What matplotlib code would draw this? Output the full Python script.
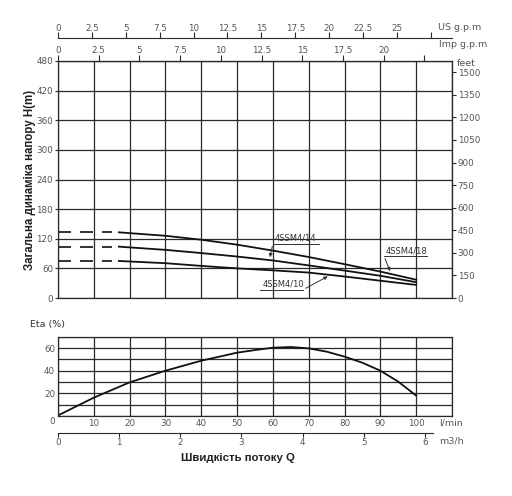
import matplotlib
matplotlib.use("Agg")
from matplotlib import pyplot as plt

# flow in l/min and head in m for the three pumps
q_head = [17, 30, 40, 50, 60, 70, 80, 90, 100]
h_18 = [133, 126, 118, 108, 96, 83, 68.5, 53.5, 37]
h_14 = [104, 97.5, 91, 84, 76, 66, 55.5, 45, 32]
h_10 = [75, 70.5, 65, 60, 56, 51.5, 43.5, 35, 26.5]
shutoff_q = [0, 15]

# efficiency curve
q_eta = [0, 10, 20, 30, 40, 50, 55, 60, 65, 70, 75, 80, 85, 90, 95, 100]
eta = [0.5, 16.2, 29.7, 40, 48.8, 55.9, 58.2, 60.3, 60.9, 59.7, 56.8, 52.4, 47, 40, 30.3, 18]

head_ticks = list(range(0, 481, 60))
feet_ticks = list(range(0, 1501, 150))
us_ticks = [0, 2.5, 5, 7.5, 10, 12.5, 15, 17.5, 20, 22.5, 25, 27.5]
imp_ticks = [0, 2.5, 5, 7.5, 10, 12.5, 15, 17.5, 20, 22.5]
eta_ticks = [20, 40, 60]
lmin_ticks = [10, 20, 30, 40, 50, 60, 70, 80, 90, 100]
m3h_ticks = [0, 1, 2, 3, 4, 5, 6]

LMIN_PER_US = 3.785
LMIN_PER_IMP = 4.546
LMIN_PER_M3H = 17.07  # as drawn on the sheet
FT_PER_M = 3.2808

W, H = 512, 496
grid_c = "#2a2a2a"
tick_c = "#555555"
tfont = dict(fontsize=6.3, color=tick_c)

fig = plt.figure(figsize=(W / 100, H / 100), dpi=100)


def box(l, t, r, b):
    return [l / W, 1 - b / H, (r - l) / W, (b - t) / H]


# ---- head chart ----
ax = fig.add_axes(box(58, 61, 452, 298))
ax.set_xlim(0, 110)
ax.set_ylim(0, 480)
ax.set_xticks(range(0, 111, 10))
ax.set_yticks(head_ticks)
ax.grid(True, color=grid_c, lw=0.9)
ax.tick_params(axis="x", length=0, labelbottom=False)
ax.tick_params(axis="y", length=2, pad=1.5, labelsize=6.3, labelcolor=tick_c, color=grid_c)
for s in ax.spines.values():
    s.set_color(grid_c)
    s.set_linewidth(0.9)

for h in (h_18, h_14, h_10):
    ax.plot(shutoff_q, [h[0], h[0]], color="#111", lw=1.2, dashes=(7.8, 5.4))
    ax.plot(q_head, h, color="#111", lw=1.3)

lab = dict(fontsize=6, color="#333", family="DejaVu Sans")
line = dict(color="#333", lw=0.7)
ax.text(60.5, 112, "4SSM4/14", ha="left", va="bottom", **lab)
ax.plot([60, 73], [110, 110], **line)
ax.annotate("", xy=(59, 77), xytext=(60, 110),
            arrowprops=dict(arrowstyle="-|>", color="#333", lw=0.7, mutation_scale=5))
ax.text(91.5, 87, "4SSM4/18", ha="left", va="bottom", **lab)
ax.plot([91, 103], [85, 85], **line)
ax.annotate("", xy=(93, 49), xytext=(91, 85),
            arrowprops=dict(arrowstyle="-|>", color="#333", lw=0.7, mutation_scale=5))
ax.text(57, 19, "4SSM4/10", ha="left", va="bottom", **lab)
ax.plot([56.5, 68.5], [17, 17], **line)
ax.annotate("", xy=(76, 46.5), xytext=(68.5, 17),
            arrowprops=dict(arrowstyle="-|>", color="#333", lw=0.7, mutation_scale=5))

# feet on the right
axf = ax.secondary_yaxis("right", functions=(lambda m: m * FT_PER_M, lambda f: f / FT_PER_M))
axf.set_yticks(feet_ticks)
axf.tick_params(length=3, pad=1, labelsize=6.3, labelcolor=tick_c, color=grid_c)
axf.spines["right"].set_color(grid_c)

# Imp g.p.m on the top edge
axi = ax.secondary_xaxis("top", functions=(lambda q: q / LMIN_PER_IMP, lambda g: g * LMIN_PER_IMP))
axi.set_xticks(imp_ticks, [f"{t:g}" for t in imp_ticks[:-1]] + [""])
axi.tick_params(length=4, pad=0, labelsize=6.3, labelcolor=tick_c, color=grid_c)
axi.spines["top"].set_color(grid_c)

# US g.p.m further up
axu = ax.secondary_xaxis(1 + 22.7 / 237, functions=(lambda q: q / LMIN_PER_US, lambda g: g * LMIN_PER_US))
axu.set_xticks(us_ticks, [f"{t:g}" for t in us_ticks[:-1]] + [""])
axu.tick_params(length=4, pad=0, labelsize=6.3, labelcolor=tick_c, color=grid_c)
axu.spines["top"].set_color(grid_c)

fig.text(438 / W, 1 - 28 / H, "US g.p.m", ha="left", va="center", fontsize=6.8, color=tick_c)
fig.text(439 / W, 1 - 44.5 / H, "Imp g.p.m", ha="left", va="center", fontsize=6.8, color=tick_c)
fig.text(457 / W, 1 - 64 / H, "feet", ha="left", va="center", fontsize=6.8, color=tick_c)
fig.text(30 / W, 1 - 180 / H, "Загальна динаміка напору H(m)", rotation=90,
         ha="center", va="center", fontsize=8.3, fontweight="bold",
         family="Liberation Sans", color="#222")

# ---- efficiency chart ----
bx = fig.add_axes(box(58, 336.7, 452, 416))
bx.set_xlim(0, 110)
bx.set_ylim(0, 70)
bx.grid(True, color=grid_c, lw=0.9)
bx.set_xticks(range(0, 111, 10))
bx.set_xticklabels(["", *map(str, lmin_ticks), ""])
bx.set_yticks(range(0, 71, 10))
bx.set_yticklabels([str(t) if t in eta_ticks else "" for t in range(0, 71, 10)])
bx.tick_params(length=0, pad=2, labelsize=6.3, labelcolor=tick_c)
for s in bx.spines.values():
    s.set_color(grid_c)
    s.set_linewidth(0.9)
bx.plot(q_eta, eta, color="#111", lw=1.3)

fig.text(51.7 / W, 1 - 421 / H, "0", ha="center", va="center", **tfont)
fig.text(439 / W, 1 - 423 / H, "l/min", ha="left", va="center", fontsize=6.8, color=tick_c)
fig.text(30 / W, 1 - 325 / H, "Eta (%)", ha="left", va="center", fontsize=6.8, color="#333")

# m3/h scale under the chart
axm = bx.secondary_xaxis(-16.7 / 79.3, functions=(lambda q: q / LMIN_PER_M3H, lambda m: m * LMIN_PER_M3H))
axm.set_xticks(m3h_ticks)
axm.tick_params(length=3, pad=1, labelsize=6.3, labelcolor=tick_c, color=grid_c)
axm.spines["bottom"].set_color(grid_c)
axm.spines["bottom"].set_bounds(0, 6.13)
fig.text(439 / W, 1 - 441 / H, "m3/h", ha="left", va="center", fontsize=6.8, color=tick_c)

fig.text(237.5 / W, 1 - 458 / H, "Швидкість потоку Q", ha="center", va="center",
         fontsize=8.2, fontweight="bold", family="Liberation Sans", color="#222")

fig.savefig("out.png", dpi=100)
